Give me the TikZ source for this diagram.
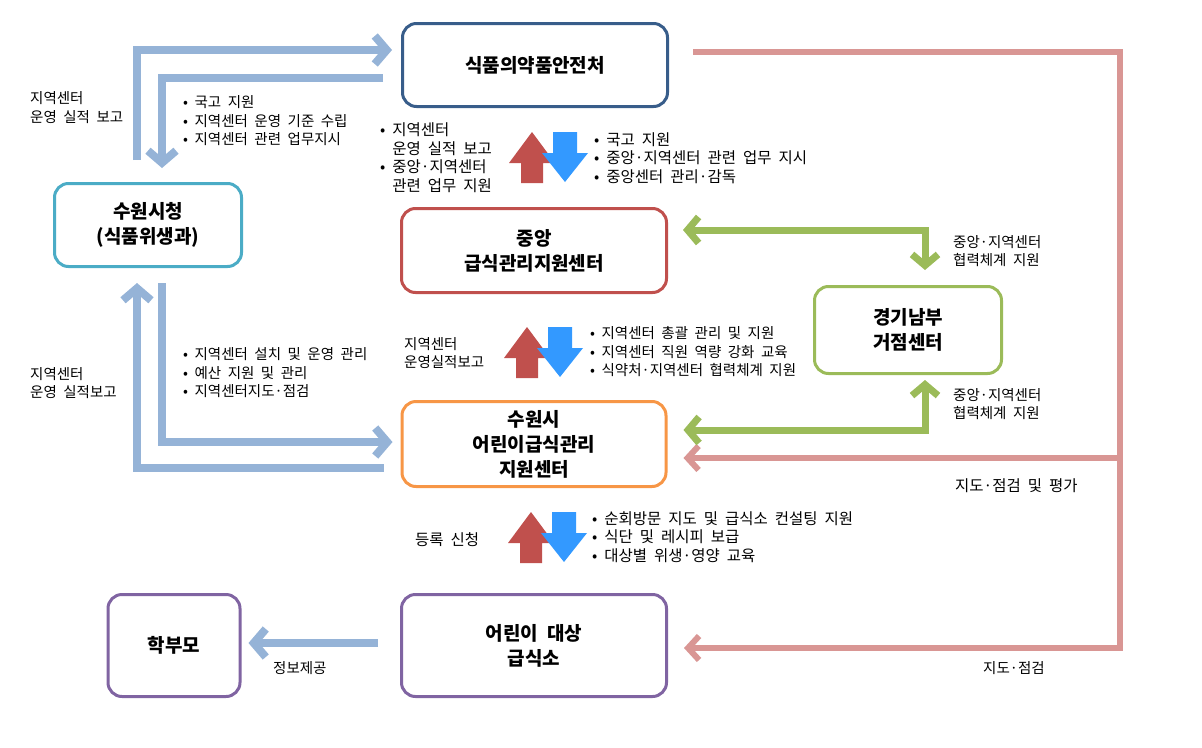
\documentclass[tikz,border=0pt]{standalone}
\usepackage{fontspec}
\newfontfamily\kr{Noto Sans CJK KR}[WordSpace=2]
\usetikzlibrary{calc, positioning}
\usetikzlibrary{arrows.meta}

\definecolor{boxblue}{HTML}{385D8A}
\definecolor{boxteal}{HTML}{4BACC6}
\definecolor{boxred}{HTML}{C0504D}
\definecolor{boxgreen}{HTML}{9BBB59}
\definecolor{boxorange}{HTML}{F79646}
\definecolor{boxpurple}{HTML}{8064A2}
\definecolor{arrowblue}{HTML}{95B3D7}
\definecolor{arrowpink}{HTML}{D99694}
\definecolor{blockred}{HTML}{C0504D}
\definecolor{blockblue}{HTML}{3399FF}

\tikzset{
  agency/.style={draw, line width=3pt, rounded corners=14pt, fill=white,
    align=center, font={\kr\bfseries\fontsize{19}{25}\selectfont}},
  note/.style={anchor=west, inner sep=0pt, align=left,
    font={\kr\fontsize{14.5}{18.5}\selectfont}},
  bignote/.style={note, font={\kr\fontsize{15.5}{18.5}\selectfont}},
  blueline/.style={draw=arrowblue, line width=8pt},
  bluearrow/.style={blueline, -{Straight Barb[length=12pt,width=28pt]}},
  pinkarrow/.style={draw=arrowpink, line width=6pt, -{Straight Barb[length=11pt,width=24pt]}},
  greenarrow/.style={draw=boxgreen, line width=7pt,
    {Straight Barb[length=11pt,width=26pt]}-{Straight Barb[length=11pt,width=26pt]}}
}

\begin{document}
\begin{tikzpicture}[x=1pt,y=-1pt]
\useasboundingbox (0,0) rectangle (1202,747);

% agencies
\node[agency, draw=boxblue, minimum width=265pt, minimum height=83pt] (MFDS) at (535,65) {식품의약품안전처};
\node[agency, draw=boxteal, minimum width=187pt, minimum height=83pt] (City) at (148,225) {수원시청\\(식품위생과)};
\node[agency, draw=boxred, minimum width=265pt, minimum height=84pt] (Central) at (534,250.5) {중앙\\급식관리지원센터};
\node[agency, draw=boxgreen, minimum width=187pt, minimum height=87pt] (South) at (908,330) {경기남부\\거점센터};
\node[agency, draw=boxorange, minimum width=264pt, minimum height=85pt] (Suwon) at (534,444) {수원시\\어린이급식관리\\지원센터};
\node[agency, draw=boxpurple, minimum width=132pt, minimum height=102pt] (Parents) at (174,645.5) {학부모};
\node[agency, draw=boxpurple, minimum width=265pt, minimum height=102pt] (Kids) at (534,645.5) {어린이 대상\\급식소};

\coordinate (RedTop) at (1120,52);
\coordinate (RedBranch) at (1120,458);
\coordinate (RedBottom) at (1120,648);

% city <-> mfds
\draw[bluearrow] ($(City.north)+(-11,-22)$) |- ($(MFDS.west)+(-9,-15)$);
\draw[bluearrow] ($(MFDS.west)+(-18,13)$) -| ($(City.north)+(14,-14)$);
% city <-> suwon center
\draw[bluearrow] ($(Suwon.west)+(-17,24)$) -| ($(City.south)+(-11,15)$);
\draw[bluearrow] ($(City.south)+(14,15)$) |- ($(Suwon.west)+(-8,-2)$);
% kids -> parents
\draw[bluearrow] ($(Kids.west)+(-22,-2.5)$) -- ($(Parents.east)+(7,-2.5)$);

% mfds inspection
\draw[pinkarrow] ($(MFDS.east)+(24,-13)$) -- (RedTop) -- (RedBottom) -- ($(Kids.east)+(16,2.5)$);
\draw[pinkarrow] (RedBranch) -- ($(Suwon.east)+(16,14)$);

% cooperation
\draw[greenarrow] ($(Central.east)+(15,-20.5)$) -| ($(South.north)+(17,-15)$);
\draw[greenarrow] ($(Suwon.east)+(16,-14)$) -| ($(South.south)+(17,5)$);

% up / down block arrows
\foreach \bx/\by in {510/132, 505/327, 509/512} {
  \fill[blockred] (\bx+22,\by) -- (\bx+45,\by+31) -- (\bx+33,\by+31) -- (\bx+33,\by+51)
    -- (\bx+11,\by+51) -- (\bx+11,\by+31) -- (\bx-1,\by+31) -- cycle;
  \fill[blockblue] (\bx+43,\by) -- (\bx+67,\by) -- (\bx+67,\by+21) -- (\bx+78,\by+21)
    -- (\bx+55,\by+50) -- (\bx+32,\by+21) -- (\bx+43,\by+21) -- cycle;
}

% labels
\node[note] (ReportTop) at (30,107.5) {지역센터\\운영 실적 보고};
\node[note] (MfdsOrder) at (183,121) {• 국고 지원\\• 지역센터 운영 기준 수립\\• 지역센터 관련 업무지시};
\node[bignote] (CentralReport) at (380,157.5) {• 지역센터\\\hphantom{• }운영 실적 보고\\• 중앙·지역센터\\\hphantom{• }관련 업무 지원};
\node[bignote] (MfdsSupport) at (594,158) {• 국고 지원\\• 중앙·지역센터 관련 업무 지시\\• 중앙센터 관리·감독};
\node[note] (ReportLow) at (30,383) {지역센터\\운영 실적보고};
\node[note] (CityTask) at (183,373) {• 지역센터 설치 및 운영 관리\\• 예산 지원 및 관리\\• 지역센터지도·점검};
\node[note] (CenterReport) at (404,353) {지역센터\\운영실적보고};
\node[note] (CentralTask) at (590,352) {• 지역센터 총괄 관리 및 지원\\• 지역센터 직원 역량 강화 교육\\• 식약처·지역센터 협력체계 지원};
\node[bignote] (Register) at (415,540) {등록 신청};
\node[bignote] (CenterTask) at (592,537) {• 순회방문 지도 및 급식소 컨설팅 지원\\• 식단 및 레시피 보급\\• 대상별 위생·영양 교육};
\node[note] (CoopTop) at (953,251) {중앙·지역센터\\협력체계 지원};
\node[note] (CoopLow) at (953,404) {중앙·지역센터\\협력체계 지원};
\node[bignote] (Inspect) at (955,486) {지도·점검 및 평가};
\node[note] (InspectKids) at (983,668) {지도·점검};
\node[note] (Inform) at (273,668) {정보제공};
\end{tikzpicture}
\end{document}
